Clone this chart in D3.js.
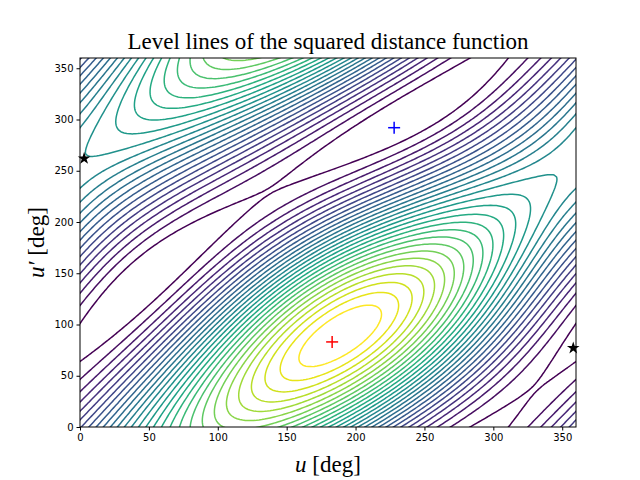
<!DOCTYPE html><html><head><meta charset="utf-8">
<script src="https://cdn.jsdelivr.net/npm/d3@7"></script>
<style>body{margin:0;background:#fff}</style></head><body>
<svg id="c" width="640" height="480"></svg>
<script>
// model coefficients (amplitude, phase deg) for f = Σ A cos(a*u + b*u' - phase)
const termA=[1.0,0.35,0.35,0.05];
const termU=[1,1,0,1];
const termV=[-1,0,1,1];
const termPhase=[100,183,83,330];
const nLevels=30;
const xTicks=[0,50,100,150,200,250,300,350];
const yTicks=[0,50,100,150,200,250,300,350];
const maxPt=[183,83], minPt=[228,292];
const saddles=[[3,262],[358,77]];

const svg=d3.select("#c");
const L=80,R=576,T=58,B=427;
const x=d3.scaleLinear().domain([0,360]).range([L,R]);
const y=d3.scaleLinear().domain([0,360]).range([B,T]);
const step=2, u0=-6, n=Math.round(372/step)+1;
const vals=new Array(n*n);
const rad=Math.PI/180;
for(let j=0;j<n;j++)for(let i=0;i<n;i++){
  const u=u0+i*step,v=u0+j*step;let s=0;
  for(let k=0;k<termA.length;k++) s+=termA[k]*Math.cos((termU[k]*u+termV[k]*v-termPhase[k])*rad);
  vals[j*n+i]=s;
}
const ext=d3.extent(vals);
const th=d3.range(1,nLevels).map(k=>ext[0]+(ext[1]-ext[0])*k/nLevels);
const col=d3.scaleSequential(d3.interpolateViridis).domain([th[0],th[th.length-1]]);
const cont=d3.contours().size([n,n]).thresholds(th)(vals);
svg.append("clipPath").attr("id","cp").append("rect").attr("x",L).attr("y",T).attr("width",R-L).attr("height",B-T);
const proj=d3.geoTransform({point:function(gx,gy){this.stream.point(x(u0+(gx-0.5)*step),y(u0+(gy-0.5)*step));}});
const path=d3.geoPath(proj);
svg.append("g").attr("clip-path","url(#cp)").selectAll("path").data(cont).join("path")
 .attr("d",path).attr("fill","none").attr("stroke",d=>col(d.value)).attr("stroke-width",1.5);
svg.append("rect").attr("x",L).attr("y",T).attr("width",R-L).attr("height",B-T).attr("fill","none").attr("stroke","#000");
const ax=svg.append("g").attr("transform",`translate(0,${B})`).call(d3.axisBottom(x).tickValues(xTicks).tickSizeOuter(0).tickSize(3.5));
const ay=svg.append("g").attr("transform",`translate(${L},0)`).call(d3.axisLeft(y).tickValues(yTicks).tickSizeOuter(0).tickSize(3.5));
[ax,ay].forEach(a=>{a.select(".domain").remove();a.selectAll("text").attr("font-family","DejaVu Sans").attr("font-size",10);});
function plus(p,c){const g=svg.append("g").attr("stroke",c).attr("stroke-width",1.5);
 g.append("line").attr("x1",x(p[0])-6).attr("x2",x(p[0])+6).attr("y1",y(p[1])).attr("y2",y(p[1]));
 g.append("line").attr("x1",x(p[0])).attr("x2",x(p[0])).attr("y1",y(p[1])-6).attr("y2",y(p[1])+6);}
plus(maxPt,"red");plus(minPt,"blue");
saddles.forEach(p=>svg.append("path").attr("d",d3.symbol(d3.symbolStar,50)()).attr("transform",`translate(${x(p[0])},${y(p[1])})`));
svg.append("text").attr("x",(L+R)/2).attr("y",49).attr("text-anchor","middle").attr("font-family","Liberation Serif").attr("font-size",23).text("Level lines of the squared distance function");
svg.append("text").attr("x",(L+R)/2).attr("y",472).attr("text-anchor","middle").attr("font-family","Liberation Serif").attr("font-size",23).html("<tspan font-style='italic'>u</tspan> [deg]");
svg.append("text").attr("transform",`translate(44,${(T+B)/2}) rotate(-90)`).attr("text-anchor","middle").attr("font-family","Liberation Serif").attr("font-size",23).html("<tspan font-style='italic'>u′</tspan> [deg]");
</script></body></html>
